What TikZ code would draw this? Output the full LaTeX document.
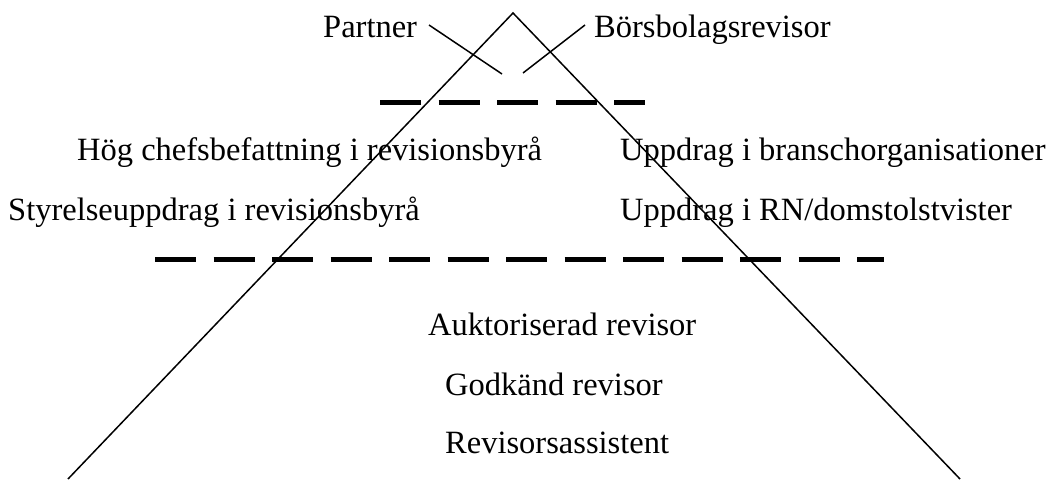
\documentclass[tikz,border=0pt]{standalone}
\usepackage{fontspec}
\setmainfont{Liberation Serif}
\begin{document}
\begin{tikzpicture}[x=1pt,y=-1pt,
  lbl/.style={anchor=base west,inner sep=0pt,font=\fontsize{32.5}{36}\selectfont},
  thin line/.style={line width=1.5pt,line cap=butt},
  level line/.style={line width=5pt,dash pattern=on 41pt off 17.5pt}]
\useasboundingbox (0,0) rectangle (1057,479);
\clip (0,0) rectangle (1057,479);
% pyramid
\coordinate (apex) at (513,13);
\coordinate (bl) at (68,479);
\coordinate (br) at (960,479);
\draw[thin line] (bl) -- (apex) -- (br);
% pointers
\coordinate (p1) at (429,25);
\coordinate (p2) at (502,74);
\coordinate (b1) at (585,25);
\coordinate (b2) at (523,73);
\draw[thin line] (p1) -- (p2);
\draw[thin line] (b1) -- (b2);
% dashed level lines
\coordinate (d1a) at (380,102);
\coordinate (d1b) at (645,102);
\coordinate (d2a) at (155,259);
\coordinate (d2b) at (884,259);
\draw[level line] (d1a) -- (d1b);
\draw[level line] (d2a) -- (d2b);
% labels
\node[lbl] (partner) at (323,37) {Partner};
\node[lbl] (bors) at (594,37) {Börsbolagsrevisor};
\node[lbl] (hog) at (77,160) {Hög chefsbefattning i revisionsbyrå};
\node[lbl] (bransch) at (620,160) {Uppdrag i branschorganisationer};
\node[lbl] (styr) at (8,220) {Styrelseuppdrag i revisionsbyrå};
\node[lbl] (rn) at (620,220) {Uppdrag i RN/domstolstvister};
\node[lbl] (aukt) at (428,335) {Auktoriserad revisor};
\node[lbl] (godk) at (445,395) {Godkänd revisor};
\node[lbl] (ass) at (445,453) {Revisorsassistent};
\end{tikzpicture}
\end{document}
